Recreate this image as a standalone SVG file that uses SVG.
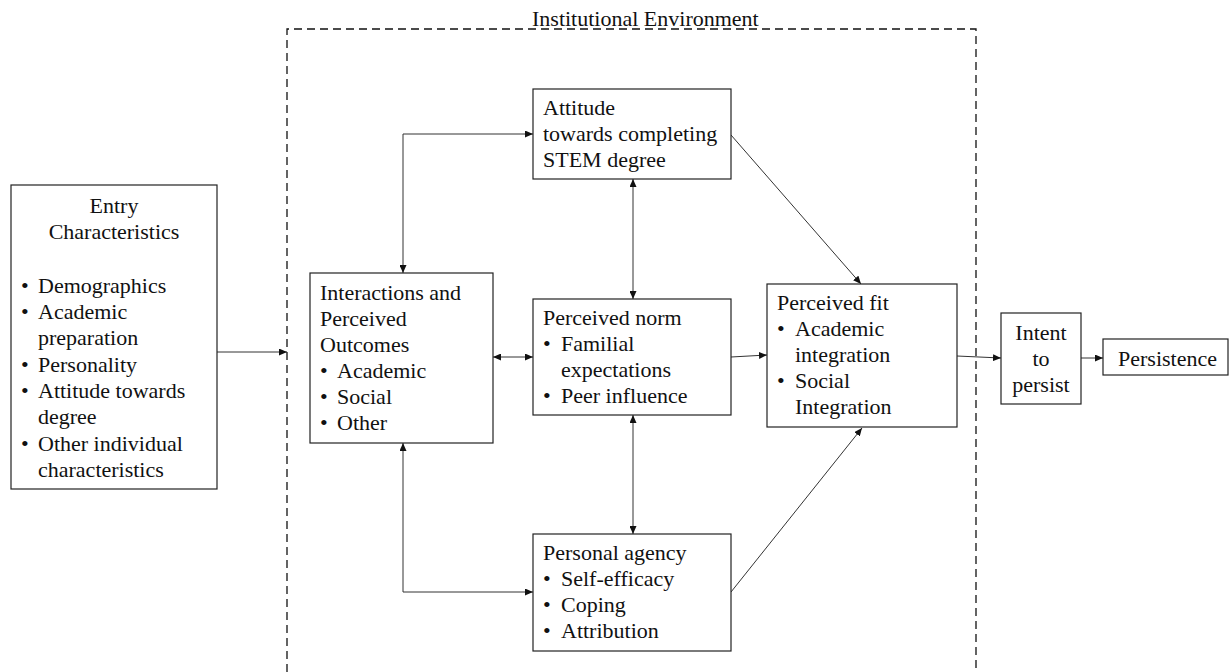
<svg xmlns="http://www.w3.org/2000/svg" width="1230" height="672" viewBox="0 0 1230 672">
<defs>
<style>
.box{fill:#fff;stroke:#222;stroke-width:1.2}
.t{font-family:'Liberation Serif','Times New Roman',serif;font-size:22px;fill:#111}
.c{stroke:#333;stroke-width:1;fill:none}
.env{fill:none;stroke:#111;stroke-width:1.3;stroke-dasharray:8,5}
</style>
<marker id="ah" viewBox="0 0 8 7" markerWidth="8" markerHeight="7" refX="8" refY="3.5" orient="auto-start-reverse" markerUnits="userSpaceOnUse">
<path d="M0,0 L8,3.5 L0,7 z" fill="#111"/>
</marker>
</defs>
<rect width="1230" height="672" fill="#fff"/>

<g id="environment">
<path class="env" d="M287,672 L287,29 L976,29 L976,672"/>
<text class="t" x="532" y="26">Institutional Environment</text>
</g>

<g id="connectors">
<path class="c" d="M217,352 L287,352" marker-end="url(#ah)"/>
<path class="c" d="M403,273 L403,134 L533,134" marker-start="url(#ah)" marker-end="url(#ah)"/>
<path class="c" d="M403,443 L403,592 L533,592" marker-start="url(#ah)" marker-end="url(#ah)"/>
<path class="c" d="M633,179 L633,299" marker-start="url(#ah)" marker-end="url(#ah)"/>
<path class="c" d="M633,415 L633,534" marker-start="url(#ah)" marker-end="url(#ah)"/>
<path class="c" d="M493,357 L533,357" marker-start="url(#ah)" marker-end="url(#ah)"/>
<path class="c" d="M731,357 L767,355" marker-end="url(#ah)"/>
<path class="c" d="M731,135 L861,284" marker-end="url(#ah)"/>
<path class="c" d="M731,592 L862,428" marker-end="url(#ah)"/>
<path class="c" d="M957,356 L1001,358" marker-end="url(#ah)"/>
<path class="c" d="M1081,358 L1103,358" marker-end="url(#ah)"/>
</g>

<g id="entry">
<rect class="box" x="11" y="185" width="206" height="304"/>
<text class="t" x="114" y="213" text-anchor="middle">Entry</text>
<text class="t" x="114" y="239" text-anchor="middle">Characteristics</text>
<text class="t" x="21" y="293">•</text><text class="t" x="38" y="293">Demographics</text>
<text class="t" x="21" y="319">•</text><text class="t" x="38" y="319">Academic</text>
<text class="t" x="38" y="345">preparation</text>
<text class="t" x="21" y="372">•</text><text class="t" x="38" y="372">Personality</text>
<text class="t" x="21" y="398">•</text><text class="t" x="38" y="398">Attitude towards</text>
<text class="t" x="38" y="424">degree</text>
<text class="t" x="21" y="451">•</text><text class="t" x="38" y="451">Other individual</text>
<text class="t" x="38" y="477">characteristics</text>
</g>

<g id="attitude">
<rect class="box" x="533" y="89" width="198" height="90"/>
<text class="t" x="543" y="115">Attitude</text>
<text class="t" x="543" y="141">towards completing</text>
<text class="t" x="543" y="167">STEM degree</text>
</g>

<g id="interactions">
<rect class="box" x="310" y="273" width="183" height="170"/>
<text class="t" x="320" y="300">Interactions and</text>
<text class="t" x="320" y="326">Perceived</text>
<text class="t" x="320" y="352">Outcomes</text>
<text class="t" x="320" y="378">•</text><text class="t" x="337" y="378">Academic</text>
<text class="t" x="320" y="404">•</text><text class="t" x="337" y="404">Social</text>
<text class="t" x="320" y="430">•</text><text class="t" x="337" y="430">Other</text>
</g>

<g id="norm">
<rect class="box" x="533" y="299" width="198" height="116"/>
<text class="t" x="543" y="325">Perceived norm</text>
<text class="t" x="543" y="351">•</text><text class="t" x="561" y="351">Familial</text>
<text class="t" x="561" y="377">expectations</text>
<text class="t" x="543" y="403">•</text><text class="t" x="561" y="403">Peer influence</text>
</g>

<g id="agency">
<rect class="box" x="533" y="534" width="198" height="117"/>
<text class="t" x="543" y="560">Personal agency</text>
<text class="t" x="543" y="586">•</text><text class="t" x="561" y="586">Self-efficacy</text>
<text class="t" x="543" y="612">•</text><text class="t" x="561" y="612">Coping</text>
<text class="t" x="543" y="638">•</text><text class="t" x="561" y="638">Attribution</text>
</g>

<g id="fit">
<rect class="box" x="767" y="284" width="190" height="143"/>
<text class="t" x="777" y="310">Perceived fit</text>
<text class="t" x="777" y="336">•</text><text class="t" x="795" y="336">Academic</text>
<text class="t" x="795" y="362">integration</text>
<text class="t" x="777" y="388">•</text><text class="t" x="795" y="388">Social</text>
<text class="t" x="795" y="414">Integration</text>
</g>

<g id="intent">
<rect class="box" x="1001" y="313" width="80" height="91"/>
<text class="t" x="1041" y="340" text-anchor="middle">Intent</text>
<text class="t" x="1041" y="366" text-anchor="middle">to</text>
<text class="t" x="1041" y="392" text-anchor="middle">persist</text>
</g>

<g id="persistence">
<rect class="box" x="1103" y="339" width="125" height="36"/>
<text class="t" x="1118" y="366">Persistence</text>
</g>
</svg>
